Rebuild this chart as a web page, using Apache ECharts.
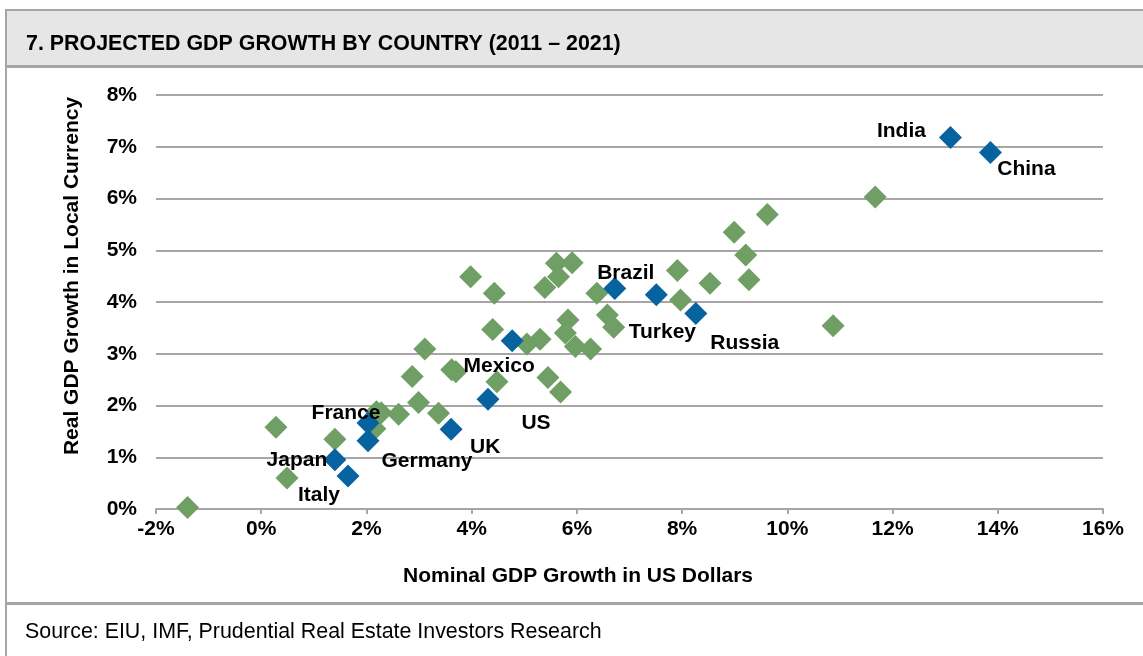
<!DOCTYPE html>
<html>
<head>
<meta charset="utf-8">
<script src="https://cdn.jsdelivr.net/npm/echarts@6/dist/echarts.min.js"></script>
<style>
  html, body { margin: 0; padding: 0; background: #fff; }
  #chart { width: 1143px; height: 656px; }
</style>
</head>
<body>
<div id="chart"></div>
<script>
// ---- Data ----
const xTicks = [-2, 0, 2, 4, 6, 8, 10, 12, 14, 16];
const yTicks = [0, 1, 2, 3, 4, 5, 6, 7, 8];

const otherX = [-1.40, 0.28, 0.49, 1.40, 2.19, 2.28, 2.16, 2.61, 2.99, 3.37, 2.87, 3.11, 3.62, 3.70, 4.48,
                3.98, 4.43, 4.40, 5.05, 5.30, 5.39, 5.61, 5.65, 5.91, 5.83, 5.78, 5.97, 6.26, 5.45,
                5.69, 6.38, 6.58, 6.70, 7.91, 7.97, 8.53, 8.99, 9.21, 9.27, 9.62, 10.87, 11.67];
const otherY = [0.03, 1.58, 0.60, 1.35, 1.88, 1.86, 1.55, 1.83, 2.06, 1.85, 2.56, 3.09, 2.69, 2.65, 2.46,
                4.49, 4.17, 3.47, 3.19, 3.28, 4.28, 4.75, 4.49, 4.76, 3.65, 3.40, 3.14, 3.09, 2.54,
                2.26, 4.17, 3.75, 3.51, 4.61, 4.04, 4.36, 5.35, 4.91, 4.43, 5.69, 3.54, 6.03];

const keyNames = ['India', 'China', 'Brazil', 'Turkey', 'Russia', 'Mexico', 'US', 'UK', 'Germany', 'France', 'Japan', 'Italy'];
const keyX     = [13.10, 13.86, 6.72, 7.51, 8.26, 4.77, 4.31, 3.61, 2.03, 2.03, 1.40, 1.65];
const keyY     = [7.18, 6.89, 4.26, 4.14, 3.78, 3.25, 2.12, 1.54, 1.32, 1.66, 0.95, 0.64];

// ---- Layout / style (label centre offsets from the marker centre, px) ----
const labelOffsets = {
  India: [-49, -8], China: [36, 15], Brazil: [11, -17], Turkey: [6, 35], Russia: [49, 28],
  Mexico: [-13, 23], US: [48, 22], UK: [34, 16], Germany: [59, 19], France: [-22, -12],
  Japan: [-38, -2], Italy: [-29, 17]
};

const FONT = '"Liberation Sans", Arial, sans-serif';
const GRAY = '#a6a6a6';
const GREEN = '#6f9f64';
const BLUE = '#07639f';
const SYM = 23;

const otherData = otherX.map((x, i) => [x, otherY[i]]);
const keyData = keyNames.map((n, i) => ({
  name: n,
  value: [keyX[i], keyY[i]],
  label: { position: [SYM / 2 + labelOffsets[n][0], SYM / 2 + 2 + labelOffsets[n][1]] }
}));

const chart = echarts.init(document.getElementById('chart'), null, { renderer: 'canvas' });

chart.setOption({
  animation: false,
  backgroundColor: '#ffffff',
  grid: { left: 156, right: 40, top: 95, bottom: 147, containLabel: false },
  xAxis: {
    type: 'value',
    min: xTicks[0], max: xTicks[xTicks.length - 1], interval: 2,
    axisLine: { show: true, lineStyle: { color: GRAY, width: 2 } },
    axisTick: { show: true, length: 5, lineStyle: { color: GRAY, width: 2 } },
    splitLine: { show: false },
    axisLabel: {
      margin: 10,
      formatter: v => v + '%',
      color: '#000', fontFamily: FONT, fontWeight: 'bold', fontSize: 21
    }
  },
  yAxis: {
    type: 'value',
    min: yTicks[0], max: yTicks[yTicks.length - 1], interval: 1,
    axisLine: { show: false },
    axisTick: { show: false },
    splitLine: { show: true, lineStyle: { color: GRAY, width: 2 } },
    axisLabel: {
      margin: 19,
      formatter: v => v + '%',
      color: '#000', fontFamily: FONT, fontWeight: 'bold', fontSize: 21
    }
  },
  series: [
    {
      type: 'scatter',
      symbol: 'diamond',
      symbolSize: SYM,
      itemStyle: { color: GREEN, opacity: 1 },
      data: otherData,
      z: 2
    },
    {
      type: 'scatter',
      symbol: 'diamond',
      symbolSize: SYM,
      itemStyle: { color: BLUE, opacity: 1 },
      data: keyData,
      z: 3,
      label: {
        show: true,
        formatter: p => p.name,
        color: '#000',
        fontFamily: FONT, fontWeight: 'bold', fontSize: 21,
        align: 'center', verticalAlign: 'middle'
      },
      labelLayout: { hideOverlap: false }
    }
  ],
  graphic: [
    { type: 'rect', shape: { x: 6, y: 10, width: 1140, height: 56 }, style: { fill: '#e6e6e6' }, z: 0, silent: true },
    { type: 'rect', shape: { x: 5, y: 9, width: 1140, height: 2 }, style: { fill: GRAY }, z: 1, silent: true },
    { type: 'rect', shape: { x: 5, y: 65, width: 1140, height: 3 }, style: { fill: GRAY }, z: 1, silent: true },
    { type: 'rect', shape: { x: 5, y: 9, width: 2, height: 660 }, style: { fill: GRAY }, z: 1, silent: true },
    { type: 'rect', shape: { x: 5, y: 602, width: 1140, height: 3 }, style: { fill: GRAY }, z: 1, silent: true },
    { type: 'text', x: 26, y: 44, style: {
        text: '7. PROJECTED GDP GROWTH BY COUNTRY (2011 – 2021)',
        fill: '#000', font: 'bold 21.4px ' + FONT, verticalAlign: 'middle'
      }, z: 2, silent: true },
    { type: 'text', x: 25, y: 632, style: {
        text: 'Source: EIU, IMF, Prudential Real Estate Investors Research',
        fill: '#000', font: '21.4px ' + FONT, verticalAlign: 'middle'
      }, z: 2, silent: true },
    { type: 'text', x: 72, y: 276, rotation: Math.PI / 2, style: {
        text: 'Real GDP Growth in Local Currency',
        fill: '#000', font: 'bold 21px ' + FONT, align: 'center', verticalAlign: 'middle'
      }, z: 2, silent: true },
    { type: 'text', x: 578, y: 576, style: {
        text: 'Nominal GDP Growth in US Dollars',
        fill: '#000', font: 'bold 21px ' + FONT, align: 'center', verticalAlign: 'middle'
      }, z: 2, silent: true }
  ]
});
</script>
</body>
</html>
